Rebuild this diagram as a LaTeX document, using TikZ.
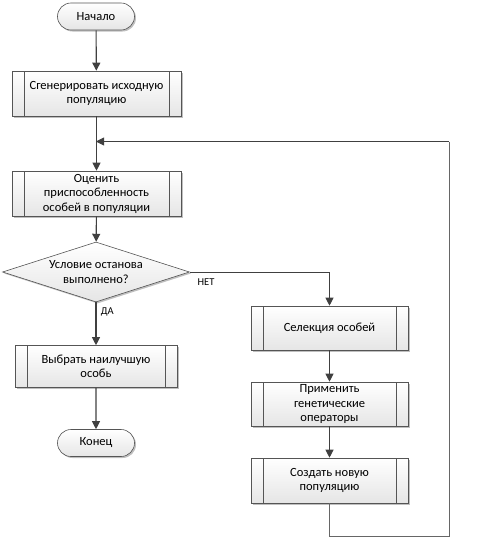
\documentclass[tikz,border=0pt]{standalone}
\usepackage{fontspec}
\setmainfont{Carlito}
\usetikzlibrary{shapes.geometric,shapes.misc,shadows,arrows.meta}
\definecolor{lc}{HTML}{404040}
\definecolor{bc}{HTML}{555555}
\begin{document}
\begin{tikzpicture}[x=1pt,y=-1pt,
  font=\fontsize{12.5}{14.5}\selectfont,
  boxfill/.style={top color=white,bottom color=black!10,draw=bc,line width=0.6pt,
     drop shadow={shadow xshift=1.5pt,shadow yshift=-1.5pt,opacity=0.25,fill=black}},
  proc/.style={boxfill,rectangle,align=center,inner sep=0pt,
     minimum width=#1,minimum height=45pt,
     path picture={
       \draw[bc,line width=0.6pt] ([xshift=12pt]path picture bounding box.north west) -- ([xshift=12pt]path picture bounding box.south west);
       \draw[bc,line width=0.6pt] ([xshift=-12pt]path picture bounding box.north east) -- ([xshift=-12pt]path picture bounding box.south east);}},
  term/.style={boxfill,rounded rectangle,minimum width=77pt,minimum height=27pt,inner sep=0pt},
  dec/.style={boxfill,diamond,aspect=3.1,minimum width=187pt,minimum height=60pt,inner sep=0pt,align=center},
  conn/.style={draw=lc,line width=1.1pt,-{Triangle[length=8pt,width=8pt]}},
  plain/.style={draw=lc,line width=1pt},
  lbl/.style={font=\fontsize{10.5}{12}\selectfont}
]
\useasboundingbox (0,0) rectangle (483,549);
\node[term] (start) at (96,16.5) {Начало};
\node[proc=169pt] (gen) at (96.5,93.5) {Сгенерировать исходную\\популяцию};
\node[proc=169pt] (eval) at (96.5,193.5) {Оценить\\приспособленность\\особей в популяции};
\node[dec] (cond) at (96,272) {Условие останова\\выполнено?};
\node[proc=162pt,minimum height=42pt] (best) at (96,366.5) {Выбрать наилучшую\\особь};
\node[term] (end) at (96,443) {Конец};
\node[proc=157pt,minimum height=44pt] (sel) at (329.5,328) {Селекция особей};
\node[proc=157pt,minimum height=44pt] (app) at (329.5,404) {Применить\\генетические\\операторы};
\node[proc=157pt] (new) at (329.5,480.5) {Создать новую\\популяцию};

\coordinate (merge) at (96,141.5);
\coordinate (lA) at (329.5,536);
\coordinate (lB) at (449,536);
\coordinate (lC) at (449,141.5);
\coordinate (nC) at (329.5,272);

\draw[conn] (start) -- (gen);
\draw[conn] (gen) -- (eval);
\draw[conn] (eval) -- (cond);
\draw[conn] (cond) -- node[lbl,pos=0.22,right=1pt] {ДА} (best);
\draw[conn] (best) -- (end);
\draw[plain] (cond.east) -- (nC);
\draw[conn] (nC) -- (sel);
\node[lbl] (net) at (206,282.5) {НЕТ};
\draw[conn] (sel) -- (app);
\draw[conn] (app) -- (new);
\draw[plain,line width=0.9pt,draw=lc!80] (new.south) -- (lA) -- (lB) -- (lC);
\draw[conn,line width=0.9pt] (lC) -- (merge);
\end{tikzpicture}
\end{document}
